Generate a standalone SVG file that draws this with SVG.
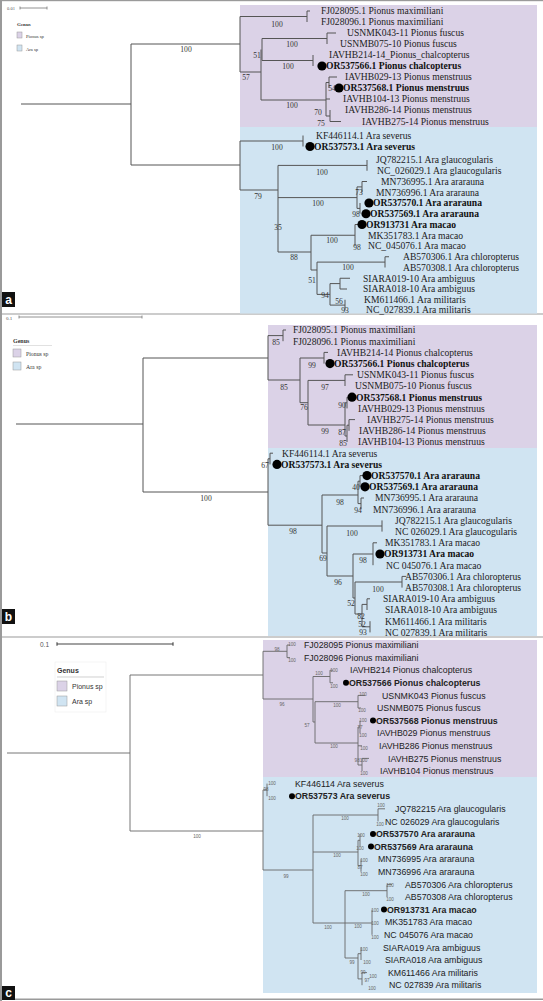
<svg xmlns="http://www.w3.org/2000/svg" width="543" height="1001" viewBox="0 0 543 1001">
<style>
.ln{stroke:#555;stroke-width:1;fill:none}
.lc{stroke:#666;stroke-width:0.9;fill:none}
.sb{stroke:#777;stroke-width:0.8;fill:none}
.t{font-family:"Liberation Serif","Times New Roman",serif;font-size:9.6px;fill:#222}
.b{font-weight:bold;fill:#111}
.s{font-family:"Liberation Serif","Times New Roman",serif;font-size:7.6px;fill:#333;text-anchor:middle}
.tc{font-family:"Liberation Sans",Arial,sans-serif;font-size:8.8px;fill:#222}
.sc{font-family:"Liberation Sans",Arial,sans-serif;font-size:4.6px;fill:#666;text-anchor:middle}
.pu{fill:#dbd2e7}
.bl{fill:#d0e4f2}
.lg{stroke:#999;stroke-width:0.5}
.pl{font-family:"Liberation Sans",Arial,sans-serif;font-size:12px;font-weight:bold;fill:#fff;text-anchor:middle}
</style>
<rect width="543" height="1001" fill="#fff"/>
<g id="frames" fill="#9a9a9a">
<rect x="0" y="0" width="2" height="1001"/>
<rect x="0" y="0" width="543" height="1.2"/>
<rect x="0" y="313.5" width="543" height="1"/>
<rect x="0" y="636.5" width="543" height="1"/>
<rect x="0" y="998.5" width="543" height="1.5"/>
</g>
<g id="bg">
<rect class="pu" x="240" y="5" width="297" height="122"/>
<rect class="bl" x="240" y="127" width="297" height="186.5"/>
<rect class="pu" x="268" y="325" width="269" height="123"/>
<rect class="bl" x="268" y="448" width="269" height="188"/>
<rect class="pu" x="263" y="640" width="274" height="137"/>
<rect class="bl" x="263" y="777" width="274" height="216"/>
</g>
<!-- panel a -->
<g id="a-scale">
<text x="7" y="10" style="font-family:'Liberation Serif',serif;font-size:4.5px;fill:#555">0.01</text>
<path class="sb" d="M20,8H47M20,6.5V9.5M47,6.5V9.5"/>
</g>
<g id="a-legend">
<text x="17" y="26" style="font-family:'Liberation Serif',serif;font-size:5px;font-weight:bold;fill:#333">Genus</text>
<rect class="pu lg" x="17" y="32" width="5" height="6"/>
<text x="26" y="37.5" style="font-family:'Liberation Serif',serif;font-size:4.6px;fill:#333">Pionus sp</text>
<rect class="bl lg" x="17" y="45" width="5" height="6"/>
<text x="26" y="50.5" style="font-family:'Liberation Serif',serif;font-size:4.6px;fill:#333">Ara sp</text>
</g>
<g id="connectors-a">
<path class="ln" d="M21,104H131M131,44V165M131,44H240M131,165H240
M240,16.5V72M240,16.5H307M307,11V22M307,11H310
M240,72H261M261,49.5V100M262,38.5V60.5
M262,38.5H327M327,33V44M327,33H336
M262,60.5H313M313,55V66
M261,100H326M326,82.5V116M326,82.5H329M329,77V88M329,77H337M326,99H330M326,116H330M330,110V121.5M330,121.5H341
M240,141V190M240,141H303M303,135.5V146.5
M240,190H278M278,165.4V252M278,165.4H367M367,160V170.75
M278,197.6H357M357,186.9V208.4M357,186.9H362M362,181.5V192.25M362,181.5H367M357,208.4H360M360,203V213.75
M278,252H311M311,235.25V270M311,235.25H355M355,224.5V246M355,224.5H358
M311,270H317M317,262.1V294.4M317,262.1H385M385,256.75V267.5M385,256.75H389
M317,294.4H330M330,283.6V305.1M330,283.6H340M340,278.25V289M340,278.25H350M340,289H347M330,305.1H345M345,299.75V310.5"/>
<g id="a-support">
<text class="s" x="186" y="52">100</text>
<text class="s" x="277" y="27">100</text>
<text class="s" x="292" y="47">100</text>
<text class="s" x="257" y="58">51</text>
<text class="s" x="288" y="69">100</text>
<text class="s" x="246" y="80">57</text>
<text class="s" x="332" y="91">54</text>
<text class="s" x="292" y="108">100</text>
<text class="s" x="318" y="115">70</text>
<text class="s" x="321" y="126">75</text>
<text class="s" x="277" y="150">100</text>
<text class="s" x="322" y="175">100</text>
<text class="s" x="359" y="195">73</text>
<text class="s" x="258" y="199">79</text>
<text class="s" x="318" y="206">100</text>
<text class="s" x="356" y="217">98</text>
<text class="s" x="278" y="230">35</text>
<text class="s" x="332" y="243">100</text>
<text class="s" x="357" y="250">98</text>
<text class="s" x="294" y="260">88</text>
<text class="s" x="348" y="270">100</text>
<text class="s" x="312" y="283">51</text>
<text class="s" x="325" y="298">94</text>
<text class="s" x="339" y="304">56</text>
<text class="s" x="345" y="313">93</text>
</g>
</g>
<g id="a-FJ028095"><text class="t" x="321" y="14.3">FJ028095.1 Pionus maximiliani</text></g>
<g id="a-FJ028096"><text class="t" x="321" y="25.3">FJ028096.1 Pionus maximiliani</text></g>
<g id="a-USNMK043"><text class="t" x="347" y="36.3">USNMK043-11 Pionus fuscus</text></g>
<g id="a-USNMB075"><text class="t" x="340" y="47.3">USNMB075-10 Pionus fuscus</text></g>
<g id="a-IAVHB214"><text class="t" x="329" y="58.3">IAVHB214-14_Pionus_chalcopterus</text></g>
<g id="a-OR537566"><circle cx="322" cy="66" r="4.6"/><text class="t b" x="326" y="69.3">OR537566.1 Pionus chalcopterus</text></g>
<g id="a-IAVHB029"><text class="t" x="345" y="80.3">IAVHB029-13 Pionus menstruus</text></g>
<g id="a-OR537568"><circle cx="339" cy="88" r="4.6"/><text class="t b" x="343" y="91.3">OR537568.1 Pionus menstruus</text></g>
<g id="a-IAVHB104"><text class="t" x="343" y="102.3">IAVHB104-13 Pionus menstruus</text></g>
<g id="a-IAVHB286"><text class="t" x="345" y="113.3">IAVHB286-14 Pionus menstruus</text></g>
<g id="a-IAVHB275"><text class="t" x="362" y="124.8">IAVHB275-14 Pionus menstruus</text></g>
<g id="a-KF446114"><text class="t" x="316" y="138.8">KF446114.1 Ara severus</text></g>
<g id="a-OR537573"><circle cx="310" cy="146.5" r="4.6"/><text class="t b" x="314" y="149.8">OR537573.1 Ara severus</text></g>
<g id="a-JQ782215"><text class="t" x="376" y="163.3">JQ782215.1 Ara glaucogularis</text></g>
<g id="a-NC026029"><text class="t" x="377" y="174.05">NC_026029.1 Ara glaucogularis</text></g>
<g id="a-MN736995"><text class="t" x="381" y="184.8">MN736995.1 Ara ararauna</text></g>
<g id="a-MN736996"><text class="t" x="376" y="195.55">MN736996.1 Ara ararauna</text></g>
<g id="a-OR537570"><circle cx="369" cy="203" r="4.6"/><text class="t b" x="373" y="206.3">OR537570.1 Ara ararauna</text></g>
<g id="a-OR537569"><circle cx="366" cy="213.75" r="4.6"/><text class="t b" x="370" y="217.05">OR537569.1 Ara ararauna</text></g>
<g id="a-OR913731"><circle cx="362" cy="224.5" r="4.6"/><text class="t b" x="366" y="227.8">OR913731 Ara macao</text></g>
<g id="a-MK351783"><text class="t" x="368" y="238.55">MK351783.1 Ara macao</text></g>
<g id="a-NC045076"><text class="t" x="368" y="249.3">NC_045076.1 Ara macao</text></g>
<g id="a-AB570306"><text class="t" x="403" y="260.05">AB570306.1 Ara chloropterus</text></g>
<g id="a-AB570308"><text class="t" x="403" y="270.8">AB570308.1 Ara chloropterus</text></g>
<g id="a-SIARA019"><text class="t" x="363" y="281.55">SIARA019-10 Ara ambiguus</text></g>
<g id="a-SIARA018"><text class="t" x="363" y="292.3">SIARA018-10 Ara ambiguus</text></g>
<g id="a-KM611466"><text class="t" x="364" y="303.05">KM611466.1 Ara militaris</text></g>
<g id="a-NC027839"><text class="t" x="366" y="313">NC_027839.1 Ara militaris</text></g>
<g id="a-label"><rect x="2" y="292" width="13" height="15" fill="#111"/><text class="pl" x="8.5" y="304">a</text></g>

<!-- panel b -->
<g id="b-scale">
<text x="6" y="319.5" style="font-family:'Liberation Serif',serif;font-size:5px;fill:#555">0.1</text>
<path class="sb" d="M19,317H142M19,315.5V318.5M142,315.5V318.5"/>
</g>
<g id="b-legend">
<text x="13" y="343" style="font-family:'Liberation Serif',serif;font-size:6px;font-weight:bold;fill:#333">Genus</text>
<path d="M13,345.5H52" stroke="#ccc" stroke-width="0.6"/>
<rect class="pu lg" x="13" y="349" width="8" height="8"/>
<text x="26" y="355.5" style="font-family:'Liberation Serif',serif;font-size:5.8px;fill:#333">Pionus sp</text>
<rect class="bl lg" x="13" y="362" width="8" height="8"/>
<text x="26" y="368.5" style="font-family:'Liberation Serif',serif;font-size:5.8px;fill:#333">Ara sp</text>
</g>
<g id="connectors-b">
<path class="ln" d="M16,424H143M143,358V492M143,358H268M143,492H268
M268,335.6V380M268,335.6H283M283,330V341.2M283,330H286
M268,380H300M300,358V402.7M300,358H324M324,352.4V363.6M324,352.4H328
M300,402.7H308M308,380.4V425M308,380.4H345M345,374.8V386M345,374.8H353
M308,425H345M345,402.8V436M345,402.8H347M347,397.2V408.4M345,436H347M347,425.2V442M347,425.2H349M349,419.6V430.8M349,419.6H355
M268,458.8V525.2M268,458.8H270M270,453.2V464.4M270,453.2H273
M268,525.2H322M322,495V553M322,495H358M358,481.2V503.6M358,481.2H360M360,475.6V486.8M360,475.6H364M358,503.6H361M361,498V509.2M361,498H364
M322,553H327M327,526V576M327,526H382M382,520.4V531.6
M327,576H353M353,554V598M353,554H373M373,542.8V565.2M373,542.8H377
M353,598H355M355,582V614M355,582H402M402,576.4V587.6M402,576.4H406
M355,614H362M362,604.4V626.8M362,604.4H367M367,598.8V610M367,598.8H370M362,626.8H370M370,621.2V632.4"/>
<g id="b-support">
<text class="s" x="206" y="501">100</text>
<text class="s" x="276" y="345">85</text>
<text class="s" x="284" y="390">85</text>
<text class="s" x="312" y="368">99</text>
<text class="s" x="304" y="410">76</text>
<text class="s" x="325" y="390">97</text>
<text class="s" x="325" y="434">99</text>
<text class="s" x="342" y="408">90</text>
<text class="s" x="342" y="435">87</text>
<text class="s" x="343" y="446">85</text>
<text class="s" x="265" y="468">67</text>
<text class="s" x="293" y="534">98</text>
<text class="s" x="340" y="505">98</text>
<text class="s" x="356" y="490">40</text>
<text class="s" x="358" y="513">94</text>
<text class="s" x="323" y="561">69</text>
<text class="s" x="352" y="536">100</text>
<text class="s" x="338" y="585">96</text>
<text class="s" x="363" y="563">98</text>
<text class="s" x="351" y="606">52</text>
<text class="s" x="378" y="592">100</text>
<text class="s" x="361" y="619">82</text>
<text class="s" x="362" y="627">52</text>
<text class="s" x="363" y="635">93</text>
</g>
</g>
<g id="b-FJ028095"><text class="t" x="293" y="333.3">FJ028095.1 Pionus maximiliani</text></g>
<g id="b-FJ028096"><text class="t" x="293" y="344.5">FJ028096.1 Pionus maximiliani</text></g>
<g id="b-IAVHB214"><text class="t" x="337" y="355.7">IAVHB214-14 Pionus chalcopterus</text></g>
<g id="b-OR537566"><circle cx="330" cy="363.6" r="4.6"/><text class="t b" x="334" y="366.9">OR537566.1 Pionus chalcopterus</text></g>
<g id="b-USNMK043"><text class="t" x="357" y="378.1">USNMK043-11 Pionus fuscus</text></g>
<g id="b-USNMB075"><text class="t" x="355" y="389.3">USNMB075-10 Pionus fuscus</text></g>
<g id="b-OR537568"><circle cx="352" cy="397.2" r="4.6"/><text class="t b" x="356" y="400.5">OR537568.1 Pionus menstruus</text></g>
<g id="b-IAVHB029"><text class="t" x="358" y="411.7">IAVHB029-13 Pionus menstruus</text></g>
<g id="b-IAVHB275"><text class="t" x="367" y="422.9">IAVHB275-14 Pionus menstruus</text></g>
<g id="b-IAVHB286"><text class="t" x="359" y="434.1">IAVHB286-14 Pionus menstruus</text></g>
<g id="b-IAVHB104"><text class="t" x="358" y="445.3">IAVHB104-13 Pionus menstruus</text></g>
<g id="b-KF446114"><text class="t" x="282" y="456.5">KF446114.1 Ara severus</text></g>
<g id="b-OR537573"><circle cx="277" cy="464.4" r="4.6"/><text class="t b" x="281" y="467.7">OR537573.1 Ara severus</text></g>
<g id="b-OR537570"><circle cx="367" cy="475.6" r="4.6"/><text class="t b" x="371" y="478.9">OR537570.1 Ara ararauna</text></g>
<g id="b-OR537569"><circle cx="365" cy="486.8" r="4.6"/><text class="t b" x="369" y="490.1">OR537569.1 Ara ararauna</text></g>
<g id="b-MN736995"><text class="t" x="375" y="501.3">MN736995.1 Ara ararauna</text></g>
<g id="b-MN736996"><text class="t" x="373" y="512.5">MN736996.1 Ara ararauna</text></g>
<g id="b-JQ782215"><text class="t" x="395" y="523.7">JQ782215.1 Ara glaucogularis</text></g>
<g id="b-NC026029"><text class="t" x="395" y="534.9">NC 026029.1 Ara glaucogularis</text></g>
<g id="b-MK351783"><text class="t" x="385" y="546.1">MK351783.1 Ara macao</text></g>
<g id="b-OR913731"><circle cx="380" cy="554" r="4.6"/><text class="t b" x="384" y="557.3">OR913731 Ara macao</text></g>
<g id="b-NC045076"><text class="t" x="386" y="568.5">NC 045076.1 Ara macao</text></g>
<g id="b-AB570306"><text class="t" x="405" y="579.7">AB570306.1 Ara chloropterus</text></g>
<g id="b-AB570308"><text class="t" x="405" y="590.9">AB570308.1 Ara chloropterus</text></g>
<g id="b-SIARA019"><text class="t" x="383" y="602.1">SIARA019-10 Ara ambiguus</text></g>
<g id="b-SIARA018"><text class="t" x="385" y="613.3">SIARA018-10 Ara ambiguus</text></g>
<g id="b-KM611466"><text class="t" x="385" y="624.5">KM611466.1 Ara militaris</text></g>
<g id="b-NC027839"><text class="t" x="385" y="635.7">NC 027839.1 Ara militaris</text></g>
<g id="b-label"><rect x="2" y="609" width="13" height="15" fill="#111"/><text class="pl" x="8.5" y="621">b</text></g>

<!-- panel c -->
<g id="c-scale">
<text x="40" y="646.5" style="font-family:'Liberation Sans',Arial,sans-serif;font-size:6.5px;fill:#555">0.1</text>
<path d="M57,644H173M57,642.3V645.7M173,642.3V645.7" stroke="#444" stroke-width="1.1" fill="none"/>
</g>
<g id="c-legend">
<rect x="55" y="662" width="51" height="50" fill="#fff" stroke="#eee" stroke-width="0.6"/>
<text x="57" y="673" style="font-family:'Liberation Sans',Arial,sans-serif;font-size:7px;font-weight:bold;fill:#333">Genus</text>
<path d="M57,677H104" stroke="#bbb" stroke-width="0.7"/>
<rect class="pu lg" x="57" y="681" width="10" height="10"/>
<text x="72" y="689" style="font-family:'Liberation Sans',Arial,sans-serif;font-size:7px;fill:#333">Pionus sp</text>
<rect class="bl lg" x="57" y="696" width="10" height="10"/>
<text x="72" y="704" style="font-family:'Liberation Sans',Arial,sans-serif;font-size:7px;fill:#333">Ara sp</text>
</g>
<g id="connectors-c">
<path class="lc" d="M7,753H130M130,675V831M130,675H263M130,831H263
M263,651.3V699M263,651.3H287M287,645V657.6M287,645H290M287,657.6H290
M263,699H313M313,676.5V722M313,676.5H330M330,670.2V682.8M330,670.2H333M330,682.8H333
M313,722H315M315,701.7V743M315,701.7H358M358,695.4V708M358,695.4H365M358,708H361
M315,743H358M358,727V765M358,727H360M360,720.6V733.2M358,745.8H362M358,765H362M362,758.4V771M362,758.4H369
M263,789.9V870M263,789.9H267M267,783.6V796.2
M263,870H313M313,815V923M313,815H378M378,808.8V821.4M378,808.8H385
M313,852H358M358,840.3V865.5M358,840.3H360M360,834V846.6M358,865.5H361M361,859.2V871.8
M313,923H345M345,890.7V958M345,890.7H387M387,884.4V897M387,884.4H392
M345,923H372M372,909.6V934.8
M345,958H358M358,953.7V978.9M358,953.7H361M361,947.4V960M358,978.9H362M362,972.6V985.2M362,972.6H367"/>
<g id="c-support">
<text class="sc" x="197" y="838">100</text>
<text class="sc" x="277" y="651">98</text>
<text class="sc" x="292" y="646">100</text>
<text class="sc" x="292" y="662">100</text>
<text class="sc" x="282" y="706">96</text>
<text class="sc" x="319" y="675">100</text>
<text class="sc" x="334" y="672">100</text>
<text class="sc" x="334" y="688">100</text>
<text class="sc" x="307" y="727">57</text>
<text class="sc" x="337" y="707">100</text>
<text class="sc" x="363" y="696">100</text>
<text class="sc" x="362" y="712">100</text>
<text class="sc" x="334" y="748">100</text>
<text class="sc" x="363" y="722">100</text>
<text class="sc" x="360" y="729">77</text>
<text class="sc" x="363" y="737">100</text>
<text class="sc" x="364" y="750">100</text>
<text class="sc" x="361" y="762">98100</text>
<text class="sc" x="364" y="775">100</text>
<text class="sc" x="266" y="791">98</text>
<text class="sc" x="272" y="785">100</text>
<text class="sc" x="272" y="800">100</text>
<text class="sc" x="286" y="878">99</text>
<text class="sc" x="345" y="820">100</text>
<text class="sc" x="381" y="807">100</text>
<text class="sc" x="380" y="826">100</text>
<text class="sc" x="337" y="857">100</text>
<text class="sc" x="361" y="837">100</text>
<text class="sc" x="360" y="850">100</text>
<text class="sc" x="364" y="862">100</text>
<text class="sc" x="360" y="869">87</text>
<text class="sc" x="364" y="876">100</text>
<text class="sc" x="366" y="896">100</text>
<text class="sc" x="390" y="887">100</text>
<text class="sc" x="390" y="901">100</text>
<text class="sc" x="328" y="929">100</text>
<text class="sc" x="358" y="928">100</text>
<text class="sc" x="375" y="912">100</text>
<text class="sc" x="375" y="925">100</text>
<text class="sc" x="375" y="939">100</text>
<text class="sc" x="364" y="951">100</text>
<text class="sc" x="352" y="964">99</text>
<text class="sc" x="367" y="964">100</text>
<text class="sc" x="363" y="974">99</text>
<text class="sc" x="373" y="978">100</text>
<text class="sc" x="367" y="982">97</text>
<text class="sc" x="372" y="990">100</text>
</g>
</g>
<g id="c-FJ028095"><text class="tc" x="304" y="648.1">FJ028095 Pionus maximiliani</text></g>
<g id="c-FJ028096"><text class="tc" x="304" y="660.7">FJ028096 Pionus maximiliani</text></g>
<g id="c-IAVHB214"><text class="tc" x="350" y="673.3">IAVHB214 Pionus chalcopterus</text></g>
<g id="c-OR537566"><circle cx="346" cy="682.8" r="3"/><text class="tc b" x="349" y="685.9">OR537566 Pionus chalcopterus</text></g>
<g id="c-USNMK043"><text class="tc" x="382" y="698.5">USNMK043 Pionus fuscus</text></g>
<g id="c-USNMB075"><text class="tc" x="377" y="711.1">USNMB075 Pionus fuscus</text></g>
<g id="c-OR537568"><circle cx="373" cy="720.6" r="3"/><text class="tc b" x="376" y="723.7">OR537568 Pionus menstruus</text></g>
<g id="c-IAVHB029"><text class="tc" x="377" y="736.3">IAVHB029 Pionus menstruus</text></g>
<g id="c-IAVHB286"><text class="tc" x="379" y="748.9">IAVHB286 Pionus menstruus</text></g>
<g id="c-IAVHB275"><text class="tc" x="388" y="761.5">IAVHB275 Pionus menstruus</text></g>
<g id="c-IAVHB104"><text class="tc" x="380" y="774.1">IAVHB104 Pionus menstruus</text></g>
<g id="c-KF446114"><text class="tc" x="295" y="786.7">KF446114 Ara severus</text></g>
<g id="c-OR537573"><circle cx="292" cy="796.2" r="3"/><text class="tc b" x="295" y="799.3">OR537573 Ara severus</text></g>
<g id="c-JQ782215"><text class="tc" x="395" y="811.9">JQ782215 Ara glaucogularis</text></g>
<g id="c-NC026029"><text class="tc" x="385" y="824.5">NC 026029 Ara glaucogularis</text></g>
<g id="c-OR537570"><circle cx="373" cy="834" r="3"/><text class="tc b" x="376" y="837.1">OR537570 Ara ararauna</text></g>
<g id="c-OR537569"><circle cx="371" cy="846.6" r="3"/><text class="tc b" x="374" y="849.7">OR537569 Ara ararauna</text></g>
<g id="c-MN736995"><text class="tc" x="378" y="862.3">MN736995 Ara ararauna</text></g>
<g id="c-MN736996"><text class="tc" x="378" y="874.9">MN736996 Ara ararauna</text></g>
<g id="c-AB570306"><text class="tc" x="405" y="887.5">AB570306 Ara chloropterus</text></g>
<g id="c-AB570308"><text class="tc" x="405" y="900.1">AB570308 Ara chloropterus</text></g>
<g id="c-OR913731"><circle cx="384" cy="909.6" r="3"/><text class="tc b" x="387" y="912.7">OR913731 Ara macao</text></g>
<g id="c-MK351783"><text class="tc" x="385" y="925.3">MK351783 Ara macao</text></g>
<g id="c-NC045076"><text class="tc" x="384" y="937.9">NC 045076 Ara macao</text></g>
<g id="c-SIARA019"><text class="tc" x="383" y="950.5">SIARA019 Ara ambiguus</text></g>
<g id="c-SIARA018"><text class="tc" x="385" y="963.1">SIARA018 Ara ambiguus</text></g>
<g id="c-KM611466"><text class="tc" x="388" y="975.7">KM611466 Ara militaris</text></g>
<g id="c-NC027839"><text class="tc" x="389" y="988.3">NC 027839 Ara militaris</text></g>
<g id="c-label"><rect x="2" y="986" width="13" height="14" fill="#111"/><text class="pl" x="8.5" y="997">c</text></g>
</svg>
